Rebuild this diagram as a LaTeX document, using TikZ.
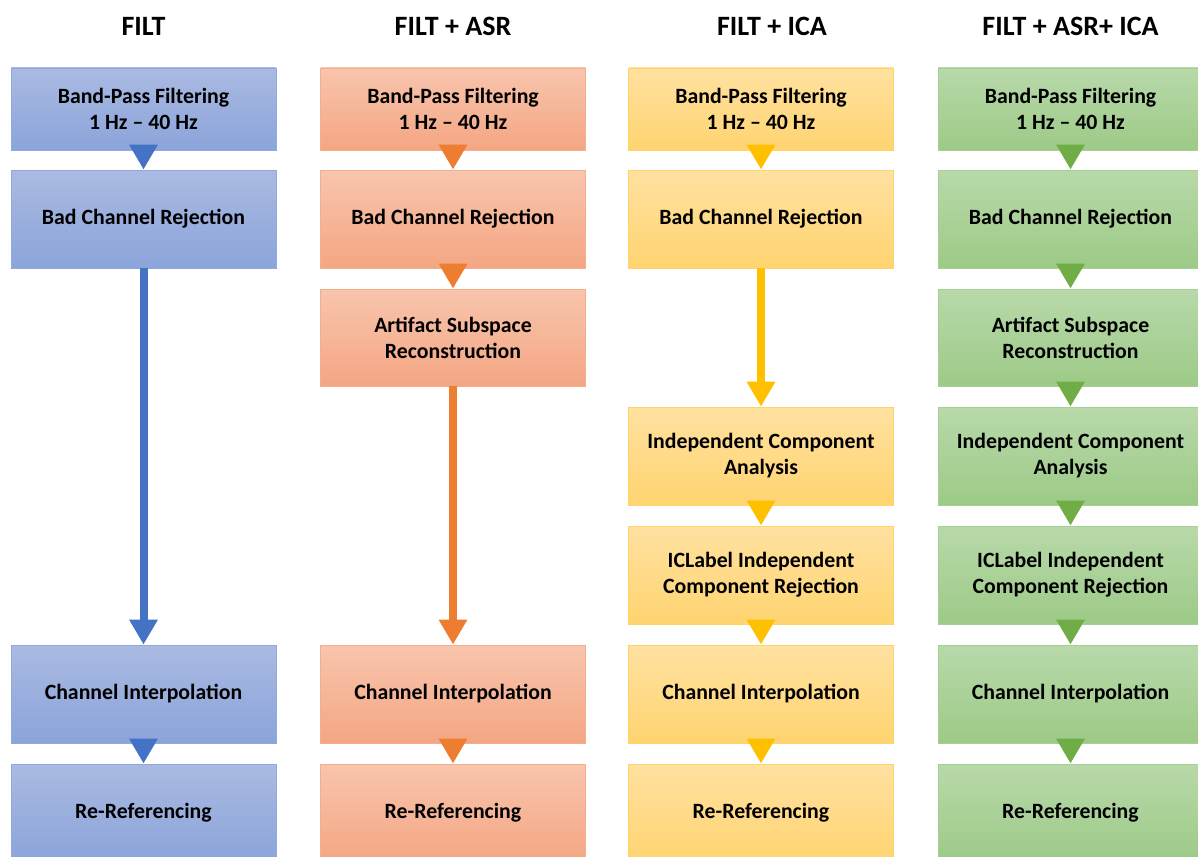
\documentclass[tikz,border=0pt]{standalone}
\usepackage{fontspec}
\setmainfont{Carlito}
\usetikzlibrary{arrows.meta,shadings}
\definecolor{bT}{HTML}{AABAE2}\definecolor{bB}{HTML}{8BA4DA}\definecolor{bD}{HTML}{8FA9DD}\definecolor{bA}{HTML}{4472C4}
\definecolor{oT}{HTML}{F8C5AD}\definecolor{oB}{HTML}{F4A683}\definecolor{oD}{HTML}{F4AE8C}\definecolor{oA}{HTML}{ED7D31}
\definecolor{yT}{HTML}{FFE1A1}\definecolor{yB}{HTML}{FFD470}\definecolor{yD}{HTML}{FFD466}\definecolor{yA}{HTML}{FFC000}
\definecolor{gT}{HTML}{B8D9AA}\definecolor{gB}{HTML}{9DCA87}\definecolor{gD}{HTML}{A6CF93}\definecolor{gA}{HTML}{70AD47}
\begin{document}
\begin{tikzpicture}[x=1pt,y=-1pt,
  box/.style={draw=#1D,line width=0.8pt,top color=#1T,bottom color=#1B,minimum width=265pt,
    align=center,font=\fontsize{21.8pt}{26pt}\selectfont\bfseries,inner sep=0pt},
  hA/.style={minimum height=82pt},
  hB/.style={minimum height=98pt},
  ttl/.style={font=\fontsize{28pt}{32pt}\selectfont\bfseries},
  flow/.style={draw=#1A,line width=8pt,-{Triangle[width=27pt,length=25pt,fill=#1A]}},
  sflow/.style={flow=#1,shorten <=-6pt}]
\useasboundingbox (0,0) rectangle (1198,856);
\clip (0,0) rectangle (1198,856);
% titles
\node[ttl] (t1) at (143.5,26) {FILT};
\node[ttl] (t2) at (453,26) {FILT + ASR};
\node[ttl] (t3) at (772,26) {FILT + ICA};
\node[ttl] (t4) at (1070.5,26) {FILT + ASR+ ICA};
% column 1
\node[box=b,hA] (a1) at (143.5,109) {Band-Pass Filtering\\1 Hz -- 40 Hz};
\node[box=b,hB] (a2) at (143.5,219) {Bad Channel Rejection};
\node[box=b,hB] (a6) at (143.5,694) {Channel Interpolation};
\node[box=b,hB] (a7) at (143.5,813) {Re-Referencing};
% column 2
\node[box=o,hA] (b1) at (453,109) {Band-Pass Filtering\\1 Hz -- 40 Hz};
\node[box=o,hB] (b2) at (453,219) {Bad Channel Rejection};
\node[box=o,minimum height=97pt] (b3) at (453,337.5) {Artifact Subspace\\Reconstruction};
\node[box=o,hB] (b6) at (453,694) {Channel Interpolation};
\node[box=o,hB] (b7) at (453,813) {Re-Referencing};
% column 3
\node[box=y,hA] (c1) at (761,109) {Band-Pass Filtering\\1 Hz -- 40 Hz};
\node[box=y,hB] (c2) at (761,219) {Bad Channel Rejection};
\node[box=y,hB] (c4) at (761,456) {Independent Component\\Analysis};
\node[box=y,hB] (c5) at (761,575) {ICLabel Independent\\Component Rejection};
\node[box=y,hB] (c6) at (761,694) {Channel Interpolation};
\node[box=y,hB] (c7) at (761,813) {Re-Referencing};
% column 4
\node[box=g,hA] (d1) at (1070.5,109) {Band-Pass Filtering\\1 Hz -- 40 Hz};
\node[box=g,hB] (d2) at (1070.5,219) {Bad Channel Rejection};
\node[box=g,minimum height=97pt] (d3) at (1070.5,337.5) {Artifact Subspace\\Reconstruction};
\node[box=g,hB] (d4) at (1070.5,456) {Independent Component\\Analysis};
\node[box=g,hB] (d5) at (1070.5,575) {ICLabel Independent\\Component Rejection};
\node[box=g,hB] (d6) at (1070.5,694) {Channel Interpolation};
\node[box=g,hB] (d7) at (1070.5,813) {Re-Referencing};
% arrows
\draw[sflow=b] (a1.south) -- (a2.north);
\draw[flow=b] (a2.south) -- (a6.north);
\draw[sflow=b] (a6.south) -- (a7.north);
\draw[sflow=o] (b1.south) -- (b2.north);
\draw[sflow=o] (b2.south) -- (b3.north);
\draw[flow=o] (b3.south) -- (b6.north);
\draw[sflow=o] (b6.south) -- (b7.north);
\draw[sflow=y] (c1.south) -- (c2.north);
\draw[flow=y] (c2.south) -- (c4.north);
\draw[sflow=y] (c4.south) -- (c5.north);
\draw[sflow=y] (c5.south) -- (c6.north);
\draw[sflow=y] (c6.south) -- (c7.north);
\draw[sflow=g] (d1.south) -- (d2.north);
\draw[sflow=g] (d2.south) -- (d3.north);
\draw[sflow=g] (d3.south) -- (d4.north);
\draw[sflow=g] (d4.south) -- (d5.north);
\draw[sflow=g] (d5.south) -- (d6.north);
\draw[sflow=g] (d6.south) -- (d7.north);
\end{tikzpicture}
\end{document}
